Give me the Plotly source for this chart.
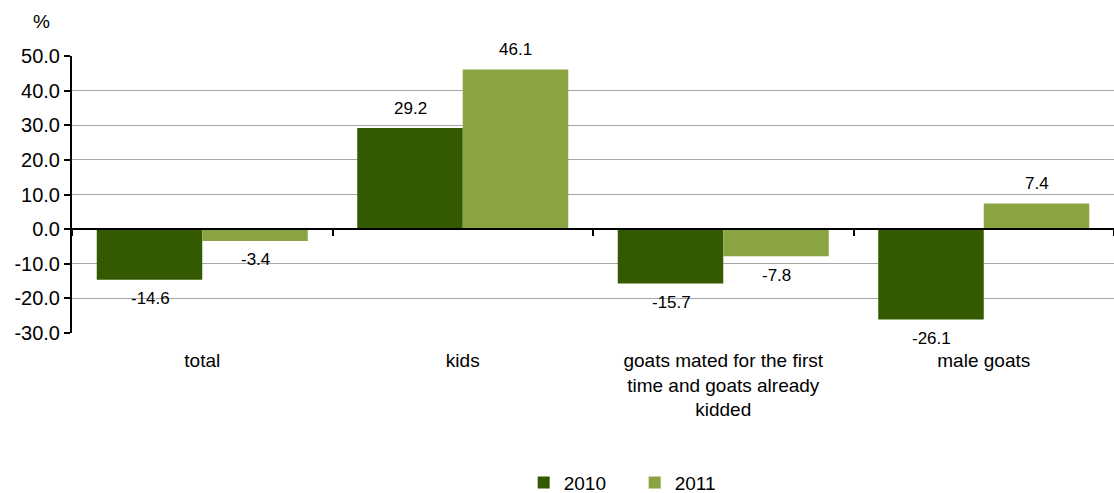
import plotly.graph_objects as go

categories = ["total", "kids", "goats mated for the first<br>time and goats already<br>kidded", "male goats"]
series_names = ["2010", "2011"]
values_2010 = [-14.6, 29.2, -15.7, -26.1]
values_2011 = [-3.4, 46.1, -7.8, 7.4]
y_ticks = [50, 40, 30, 20, 10, 0, -10, -20, -30]

colors = ["#335A00", "#8BA442"]
FONT = "Liberation Sans, Arial, sans-serif"

fig = go.Figure()
for name, vals, col in zip(series_names, [values_2010, values_2011], colors):
    fig.add_trace(go.Bar(x=categories, y=vals, name=name, marker=dict(color=col, line=dict(width=0)),
                         offsetgroup=name))

# value labels placed through the axes with a pixel offset
for i, (name, vals) in enumerate(zip(series_names, [values_2010, values_2011])):
    xs = -52 if i == 0 else 53
    for c, v in zip(categories, vals):
        fig.add_annotation(x=c, y=v, xref="x", yref="y", text=f"{v:.1f}", showarrow=False,
                           xshift=xs, yshift=20 if v >= 0 else -19,
                           font=dict(family=FONT, size=17, color="#000000"))

# dummy trace for the zero axis with boundary ticks
fig.add_trace(go.Scatter(x=categories, y=[None] * len(categories), xaxis="x2", showlegend=False,
                         hoverinfo="skip", mode="lines"))

fig.add_annotation(x=-0.029, y=1.123, xref="paper", yref="paper", text="%", showarrow=False,
                   xanchor="center", yanchor="middle",
                   font=dict(family=FONT, size=19, color="#000000"))

fig.update_layout(
    width=1114, height=493,
    margin=dict(l=72, r=0, t=56, b=160, autoexpand=False),
    paper_bgcolor="white", plot_bgcolor="white",
    barmode="group", bargap=0.19, bargroupgap=0,
    font=dict(family=FONT, size=19, color="#000000"),
    showlegend=True,
    legend=dict(orientation="h", x=0.540, xanchor="center", y=-0.54, yanchor="middle",
                font=dict(family=FONT, size=19), itemwidth=30, tracegroupgap=0,
                entrywidth=66),
    xaxis=dict(showgrid=False, showline=False, ticks="", ticklabelstandoff=14, automargin=False,
               tickfont=dict(family=FONT, size=19)),
    xaxis2=dict(overlaying="x", anchor="free", position=0.375, matches="x", showline=True,
                linecolor="#000000", linewidth=2, ticks="outside", tickson="boundaries",
                ticklen=6, tickwidth=2, tickcolor="#000000", showticklabels=False, showgrid=False),
    yaxis=dict(range=[-30, 50], tickvals=y_ticks, ticktext=[f"{t:.1f}" for t in y_ticks],
               showgrid=True, gridcolor="#A6A6A6", gridwidth=1, zeroline=False, automargin=False,
               showline=True, linecolor="#000000", linewidth=2, ticks="outside", ticklen=6,
               tickwidth=2, tickcolor="#000000", tickfont=dict(family=FONT, size=20)),
)

fig.write_html("out.html", config={"displayModeBar": False},
               post_script="document.body.style.margin='0';document.body.style.overflow='hidden';")
